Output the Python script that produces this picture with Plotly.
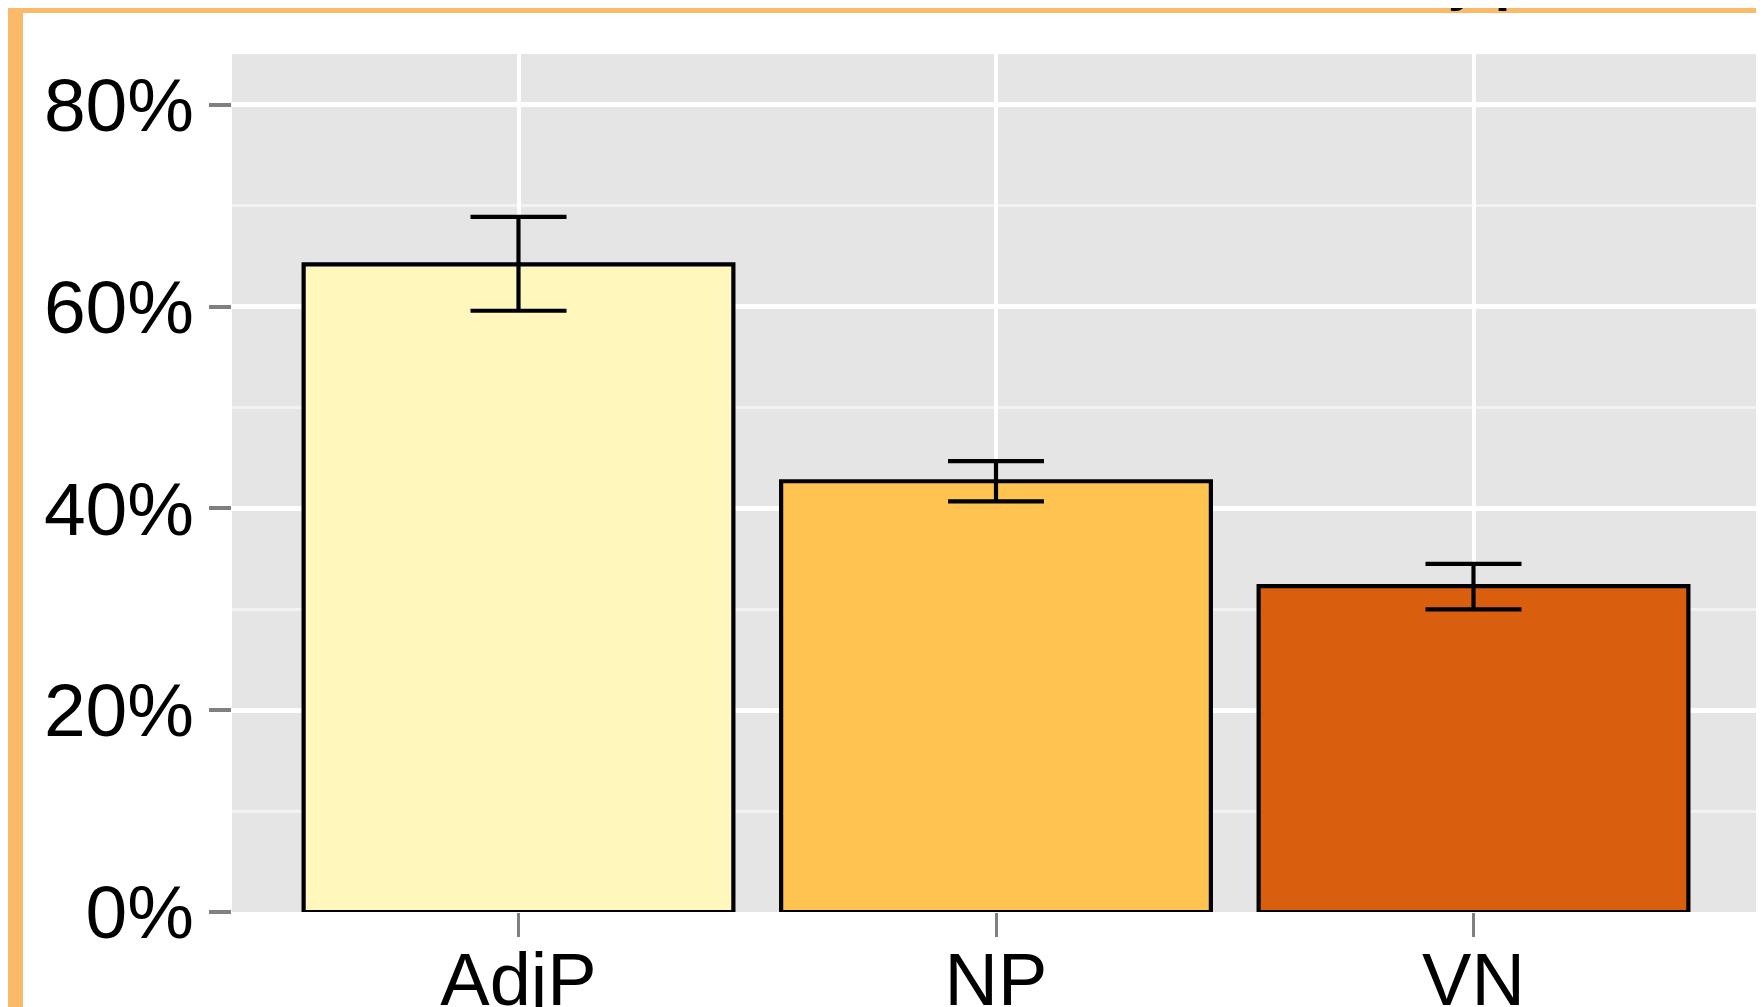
import plotly.graph_objects as go

categories = ["AdjP", "NP", "VN"]
values = [64.2, 42.7, 32.3]
err_upper = [68.9, 44.7, 34.5]
err_lower = [59.6, 40.7, 30.0]
colors = ["#FFF7BC", "#FEC44F", "#D95F0E"]
y_ticks = [0, 20, 40, 60, 80]
y_tick_labels = ["0%", "20%", "40%", "60%", "80%"]

# page has an 8px body margin; figure pixel = page pixel - 8
OFF = 8
W, H = 1756, 999
L, T = 232 - OFF, 54 - OFF
R = W - (1760 - OFF)
B = H - (912 - OFF)
pw, ph = W - L - R, H - T - B

def px_x(p):
    return (p - OFF - L) / pw

def px_y(p):
    return (H - B - (p - OFF)) / ph

plus = [u - v for u, v in zip(err_upper, values)]
minus = [v - l for v, l in zip(values, err_lower)]

fig = go.Figure()
fig.add_trace(go.Bar(
    x=categories, y=values, width=0.9,
    marker=dict(color=colors, line=dict(color="black", width=4.2)),
    error_y=dict(type="data", symmetric=False, array=plus, arrayminus=minus,
                 color="black", thickness=4.2, width=48),
    showlegend=False,
))

font = "Liberation Sans, Arial, sans-serif"
fig.update_layout(
    width=W, height=H,
    margin=dict(l=L, r=R, t=T, b=B, pad=0, autoexpand=False),
    paper_bgcolor="white",
    plot_bgcolor="#E5E5E5",
    font=dict(family=font, size=74, color="black"),
    bargap=0.1,
    xaxis=dict(
        range=[-0.6, 2.6], showgrid=True, gridcolor="white", gridwidth=4,
        ticks="outside", ticklen=24, tickwidth=3, tickcolor="#808080",
        zeroline=False, showline=False, tickfont=dict(size=74, family=font, color="black"),
        ticklabelstandoff=-21, automargin=False,
    ),
    yaxis=dict(
        range=[0, 85.05], tickvals=y_ticks, ticktext=y_tick_labels,
        showgrid=True, gridcolor="white", gridwidth=5,
        minor=dict(showgrid=True, dtick=10, tick0=0, gridcolor="#F2F2F2", gridwidth=2.5, ticks=""),
        ticks="outside", ticklen=22, tickwidth=4, tickcolor="#808080",
        zeroline=False, showline=False, tickfont=dict(size=75, family=font, color="black"),
        ticklabelstandoff=0, automargin=False,
    ),
    shapes=[
        dict(type="rect", xref="paper", yref="paper", x0=px_x(-5), x1=px_x(23),
             y0=px_y(H + 50), y1=px_y(-5), fillcolor="#FBB96A", line=dict(width=0), layer="above"),
        dict(type="rect", xref="paper", yref="paper", x0=px_x(-5), x1=px_x(1800),
             y0=px_y(13), y1=px_y(-5), fillcolor="#FBB96A", line=dict(width=0), layer="above"),
    ],
    annotations=[
        dict(text="<b>y p</b>", xref="paper", yref="paper", x=px_x(1446), y=px_y(13),
             xanchor="left", yanchor="bottom", showarrow=False,
             font=dict(size=56, family=font, color="black")),
    ],
)

fig.write_html("out.html")
